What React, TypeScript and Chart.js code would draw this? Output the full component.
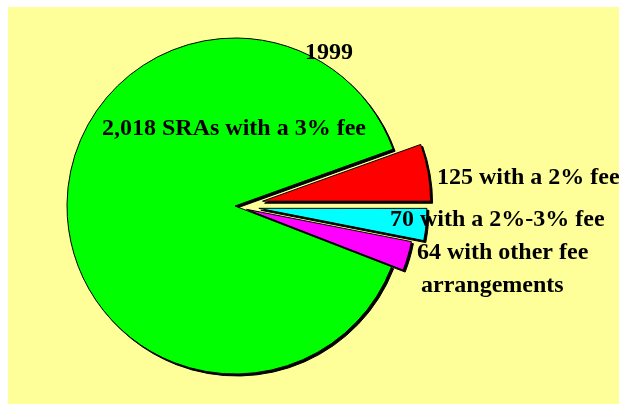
import React, { useEffect, useRef } from "react";
import { Chart, registerables } from "chart.js";

Chart.register(...registerables);

// ---- data ----
const TITLE = "1999";
const categories = [
  "2,018 SRAs with a 3% fee",
  "125 with a 2% fee",
  "70 with a 2%-3% fee",
  "64 with other fee arrangements",
];
const labelLines = [
  ["2,018 SRAs with a 3% fee"],
  ["125 with a 2% fee"],
  ["70 with a 2%-3% fee"],
  ["64 with other fee", "arrangements"],
];
const sraCounts = [2018, 125, 70, 64];

// ---- styles ----
const sliceColors = ["#00FF00", "#FF0000", "#00FFFF", "#FF00FF"];
const explode = [0, 28, 24, 12];
// label anchors relative to pie centre: [dx, dy, second-line indent]
const labelOffsets = [
  [-133, -71, 0],
  [202, -22, 0],
  [155, 20, 0],
  [182, 53, 4],
];
const titleOffset = [70, -147];
const FONT = 'bold 24px "Liberation Serif", "Times New Roman", serif';
const LINE_H = 33;

export default function App() {
  const ref = useRef<HTMLCanvasElement | null>(null);

  useEffect(() => {
    const canvas = ref.current;
    if (!canvas) return;

    const bgPlugin = {
      id: "bg",
      beforeDraw(chart: any) {
        const ctx = chart.ctx;
        ctx.save();
        ctx.fillStyle = "#FFFF99";
        ctx.fillRect(8, 7, chart.width - 8, chart.height - 7);
        ctx.restore();
      },
    };

    const centre = (chart: any) => {
      const a = chart.chartArea;
      return [(a.left + a.right) / 2, (a.top + a.bottom) / 2];
    };

    const explodePlugin = {
      id: "explodeShadow",
      beforeDatasetsDraw(chart: any) {
        const [cx, cy] = centre(chart);
        const meta = chart.getDatasetMeta(0);
        const ctx = chart.ctx;
        meta.data.forEach((arc: any, i: number) => {
          const mid = (arc.startAngle + arc.endAngle) / 2;
          arc.x = cx + Math.cos(mid) * explode[i];
          arc.y = cy + Math.sin(mid) * explode[i];
        });
        // drop shadow: a black copy of every slice, shifted down-right
        ctx.save();
        ctx.translate(2, 2);
        meta.data.forEach((arc: any) => {
          const o = arc.options;
          arc.options = { ...o, backgroundColor: "#000000", borderColor: "#000000" };
          arc.draw(ctx);
          arc.options = o;
        });
        ctx.restore();
      },
    };

    const labelPlugin = {
      id: "labels",
      afterDraw(chart: any) {
        const ctx = chart.ctx;
        const [cx, cy] = centre(chart);
        ctx.save();
        ctx.font = FONT;
        ctx.fillStyle = "#000000";
        ctx.textAlign = "left";
        ctx.textBaseline = "alphabetic";
        ctx.fillText(TITLE, cx + titleOffset[0], cy + titleOffset[1]);
        labelLines.forEach((lines, i) => {
          const [dx, dy, indent] = labelOffsets[i];
          lines.forEach((t, j) => {
            ctx.fillText(t, cx + dx + (j > 0 ? indent : 0), cy + dy + j * LINE_H);
          });
        });
        ctx.restore();
      },
    };

    const chart = new Chart(canvas, {
      type: "pie",
      data: {
        labels: categories,
        datasets: [
          {
            data: sraCounts,
            backgroundColor: sliceColors,
            borderColor: "#000000",
            borderWidth: 1,
          },
        ],
      },
      options: {
        responsive: false,
        animation: false,
        devicePixelRatio: 1,
        rotation: 111.2,
        radius: 168,
        layout: { padding: { left: 0, right: 149, top: 8, bottom: 0 } },
        plugins: {
          legend: { display: false },
          tooltip: { enabled: false },
          title: { display: false },
        },
        events: [],
      },
      plugins: [bgPlugin, explodePlugin, labelPlugin],
    });

    return () => chart.destroy();
  }, []);

  return (
    <canvas
      ref={ref}
      width={619}
      height={404}
      style={{ position: "absolute", left: 0, top: 0, width: 619, height: 404, display: "block" }}
    />
  );
}
